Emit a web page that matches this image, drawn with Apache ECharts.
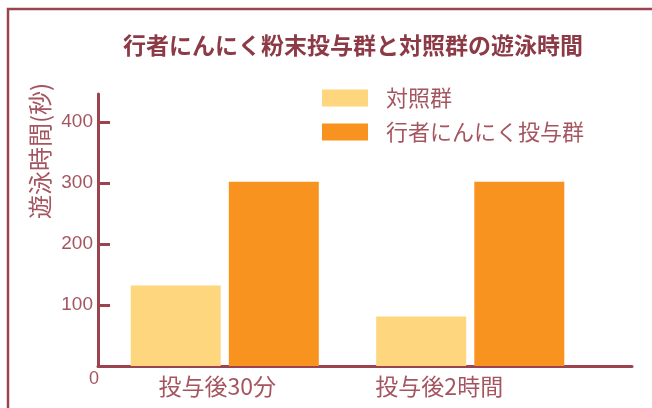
<!DOCTYPE html>
<html>
<head>
<meta charset="utf-8">
<script src="https://cdn.jsdelivr.net/npm/echarts@6/dist/echarts.min.js"></script>
<style>
html,body{margin:0;padding:0;background:#fff;}
#chart{width:652px;height:408px;}
</style>
</head>
<body>
<div id="chart"></div>
<script>
const titleText = '行者にんにく粉末投与群と対照群の遊泳時間';
const yAxisTitle = '遊泳時間(秒)';
const categories = ['投与後30分', '投与後2時間'];
const seriesNames = ['対照群', '行者にんにく投与群'];
const controlValues = [132, 81];
const garlicValues = [302, 302];
const yTicks = [0, 100, 200, 300, 400];
const yLabelTicks = [100, 200, 300, 400];
const zeroLabel = '0';

const FONT = '"Noto Sans CJK JP", "Noto Sans", sans-serif';
const NUMFONT = '"Liberation Sans", Arial, sans-serif';
const AXIS_COLOR = '#9B4450';
const TEXT_COLOR = '#A5555F';
const TITLE_COLOR = '#8C3A46';
const YMAX = 446;

const chart = echarts.init(document.getElementById('chart'));
chart.setOption({
  backgroundColor: '#fff',
  animation: false,
  title: {
    text: titleText,
    left: 118, top: 29,
    textStyle: {fontFamily: FONT, fontSize: 23, fontWeight: 'bold', color: TITLE_COLOR}
  },
  legend: {
    orient: 'vertical',
    left: 322, top: 87, padding: 0,
    itemWidth: 46, itemHeight: 17, itemGap: 12,
    icon: 'rect',
    data: seriesNames,
    textStyle: {fontFamily: FONT, fontSize: 22, color: TEXT_COLOR, padding: [0, 0, 0, 13]}
  },
  graphic: [
    {type: 'rect', shape: {x: 8, y: 9, width: 800, height: 600},
     style: {fill: 'none', stroke: AXIS_COLOR, lineWidth: 2.5}, silent: true},
    {type: 'text', x: 40, y: 151, rotation: Math.PI / 2,
     style: {text: yAxisTitle, fontFamily: FONT, fontSize: 24, fill: TEXT_COLOR,
             align: 'center', verticalAlign: 'middle'}},
    {type: 'text', x: 94, y: 379,
     style: {text: zeroLabel, fontFamily: NUMFONT, fontSize: 18, fill: TEXT_COLOR,
             align: 'center', verticalAlign: 'middle'}}
  ],
  grid: [
    {left: 102, right: 59, top: 366 - YMAX * 0.61, bottom: 42},
    {left: 98, right: 20, top: 366 - YMAX * 0.61, bottom: 42}
  ],
  xAxis: [
    {type: 'category', gridIndex: 0, data: categories,
     axisLine: {show: false}, axisTick: {show: false},
     axisLabel: {
       margin: 9, fontFamily: FONT, fontSize: 23, color: TEXT_COLOR,
       formatter: function (v, i) { return i === 0 ? '{a|' + v + '}' : '{b|' + v + '}'; },
       rich: {
         a: {fontFamily: FONT, fontSize: 23, color: TEXT_COLOR, padding: [0, 15, 0, 0]},
         b: {fontFamily: FONT, fontSize: 23, color: TEXT_COLOR, padding: [0, 62, 0, 0]}
       }
     }},
    {type: 'category', gridIndex: 1, data: ['', ''],
     axisLine: {show: true, lineStyle: {color: AXIS_COLOR, width: 3}},
     axisTick: {show: false}, axisLabel: {show: false}}
  ],
  yAxis: [
    {type: 'value', gridIndex: 0, min: 0, max: YMAX, show: false},
    {type: 'value', gridIndex: 1, min: 0, max: YMAX,
     splitLine: {show: false},
     axisLine: {show: true, lineStyle: {color: AXIS_COLOR, width: 3}},
     axisTick: {show: true, inside: true, length: 12, customValues: yTicks,
                lineStyle: {color: AXIS_COLOR, width: 3}},
     axisLabel: {
       customValues: yLabelTicks, margin: 5,
       fontFamily: NUMFONT, fontSize: 19, color: TEXT_COLOR
     }}
  ],
  series: [
    {name: seriesNames[0], type: 'bar', xAxisIndex: 0, yAxisIndex: 0,
     data: controlValues, barWidth: 90, barGap: '9%',
     itemStyle: {color: '#FDD67D'}},
    {name: seriesNames[1], type: 'bar', xAxisIndex: 0, yAxisIndex: 0,
     data: garlicValues, barWidth: 90, barGap: '9%',
     itemStyle: {color: '#F7931E'}}
  ]
});
</script>
</body>
</html>
